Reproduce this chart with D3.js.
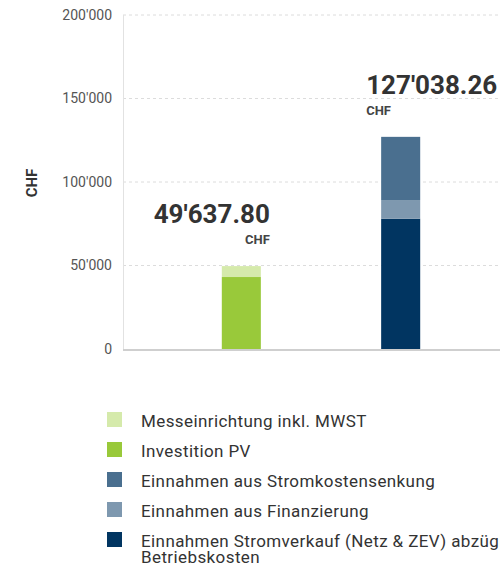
<!DOCTYPE html>
<meta charset="utf-8">
<style>
body { margin: 0; background: #fff; }
svg { display: block; font-family: Roboto, "Noto Sans", sans-serif; }
.grid line { stroke: #dcdcdc; stroke-dasharray: 3,3; }
.tick-label { fill: #555; font-size: 14px; }
.total { fill: #333; font-size: 26px; font-weight: bold; }
.unit { fill: #444; font-size: 13px; font-weight: bold; }
.legend text { fill: #333; font-size: 17px; letter-spacing: 0.4px; }
</style>
<body>
<svg></svg>
<script src="https://d3js.org/d3.v7.min.js"></script>
<script>

// data
const categories = ["Investition", "Einnahmen"];
const seriesNames = [
  "Einnahmen Stromverkauf (Netz & ZEV) abzüglich Betriebskosten",
  "Einnahmen aus Finanzierung",
  "Einnahmen aus Stromkostensenkung",
  "Investition PV",
  "Messeinrichtung inkl. MWST"
];
const stromverkauf = [0, 78000];
const finanzierung = [0, 11200];
const stromkosten = [0, 37838.26];
const investitionPV = [43100, 0];
const messeinrichtung = [6537.80, 0];
const yTicks = [0, 50000, 100000, 150000, 200000];

const colors = {
  "Messeinrichtung inkl. MWST": "#d5eaab",
  "Investition PV": "#99c93a",
  "Einnahmen aus Stromkostensenkung": "#4a6f8f",
  "Einnahmen aus Finanzierung": "#7e98af",
  "Einnahmen Stromverkauf (Netz & ZEV) abzüglich Betriebskosten": "#013561"
};

const legendOrder = [
  "Messeinrichtung inkl. MWST",
  "Investition PV",
  "Einnahmen aus Stromkostensenkung",
  "Einnahmen aus Finanzierung",
  "Einnahmen Stromverkauf (Netz & ZEV) abzüglich Betriebskosten"
];

const seriesValues = [stromverkauf, finanzierung, stromkosten, investitionPV, messeinrichtung];

// build rows for d3.stack
const rows = categories.map(function(c, i) {
  let r = { category: c };
  seriesNames.forEach(function(s, j) { r[s] = seriesValues[j][i]; });
  return r;
});
const totals = rows.map(r => d3.sum(seriesNames, s => r[s]));

const width = 500, height = 569;

const svg = d3.select("svg")
  .attr("width", width)
  .attr("height", height);

const x = d3.scaleBand()
  .domain(categories)
  .range([123, 519])
  .paddingInner(0.755)
  .paddingOuter(0.62);

const y = d3.scaleLinear()
  .domain([0, 200000])
  .range([349, 15]);

const chf = d3.formatLocale({ decimal: ".", thousands: "'", grouping: [3], currency: ["", ""] });
const fmtTick = chf.format(",");
const fmtTotal = chf.format(",.2f");

// grid lines
svg.append("g").attr("class", "grid")
  .selectAll("line")
  .data(yTicks.slice(1))
  .join("line")
  .attr("x1", 123).attr("x2", width)
  .attr("y1", d => y(d)).attr("y2", d => y(d));

// left axis line
svg.append("line")
  .attr("x1", 123.5).attr("x2", 123.5)
  .attr("y1", y(200000)).attr("y2", y(0))
  .attr("stroke", "#e2e2e2");

// tick labels
svg.append("g")
  .selectAll("text")
  .data(yTicks)
  .join("text")
  .attr("class", "tick-label")
  .attr("x", 112)
  .attr("y", d => y(d))
  .attr("dy", "0.35em")
  .attr("text-anchor", "end")
  .text(fmtTick);

// y title
svg.append("text")
  .attr("transform", "translate(37,183) rotate(-90)")
  .attr("text-anchor", "middle")
  .attr("fill", "#333")
  .style("font-size", "15px")
  .style("font-weight", "bold")
  .text("CHF");

// stacked bars
const stacked = d3.stack().keys(seriesNames)(rows);

svg.append("g")
  .selectAll("g")
  .data(stacked)
  .join("g")
  .attr("fill", d => colors[d.key])
  .selectAll("rect")
  .data(d => d.filter(p => p[1] > p[0]))
  .join("rect")
  .attr("x", d => x(d.data.category))
  .attr("width", x.bandwidth())
  .attr("y", d => y(d[1]))
  .attr("height", d => y(d[0]) - y(d[1]));

// base line
svg.append("line")
  .attr("x1", 123).attr("x2", width)
  .attr("y1", y(0) + 1).attr("y2", y(0) + 1)
  .attr("stroke", "#cfcfcf")
  .attr("stroke-width", 2);

// total labels
const labelAnchor = ["end", "start"];
const labelX = [
  x(categories[0]) + x.bandwidth() + 9,
  x(categories[1]) - 15
];

categories.forEach(function(c, i) {
  const top = y(totals[i]);
  svg.append("text")
    .attr("class", "total")
    .attr("x", labelX[i])
    .attr("y", top - 43)
    .attr("text-anchor", labelAnchor[i])
    .text(fmtTotal(totals[i]));
  svg.append("text")
    .attr("class", "unit")
    .attr("x", labelX[i])
    .attr("y", top - 22)
    .attr("text-anchor", labelAnchor[i])
    .text("CHF");
});

// legend
const legend = svg.append("g").attr("class", "legend");
const items = legend.selectAll("g")
  .data(legendOrder)
  .join("g")
  .attr("transform", (d, i) => "translate(107," + (412 + i * 30) + ")");

items.append("rect")
  .attr("width", 15)
  .attr("height", 15)
  .attr("fill", d => colors[d]);

items.each(function(d) {
  const g = d3.select(this);
  if (d.length > 50) {
    // wrapped over two lines
    const t = g.append("text").attr("x", 34).attr("y", 14.5);
    t.append("tspan").attr("x", 34).text("Einnahmen Stromverkauf (Netz & ZEV) abzüglich");
    t.append("tspan").attr("x", 34).attr("dy", 16).text("Betriebskosten");
  } else {
    g.append("text").attr("x", 34).attr("y", 14.5).text(d);
  }
});

</script>
</body>
